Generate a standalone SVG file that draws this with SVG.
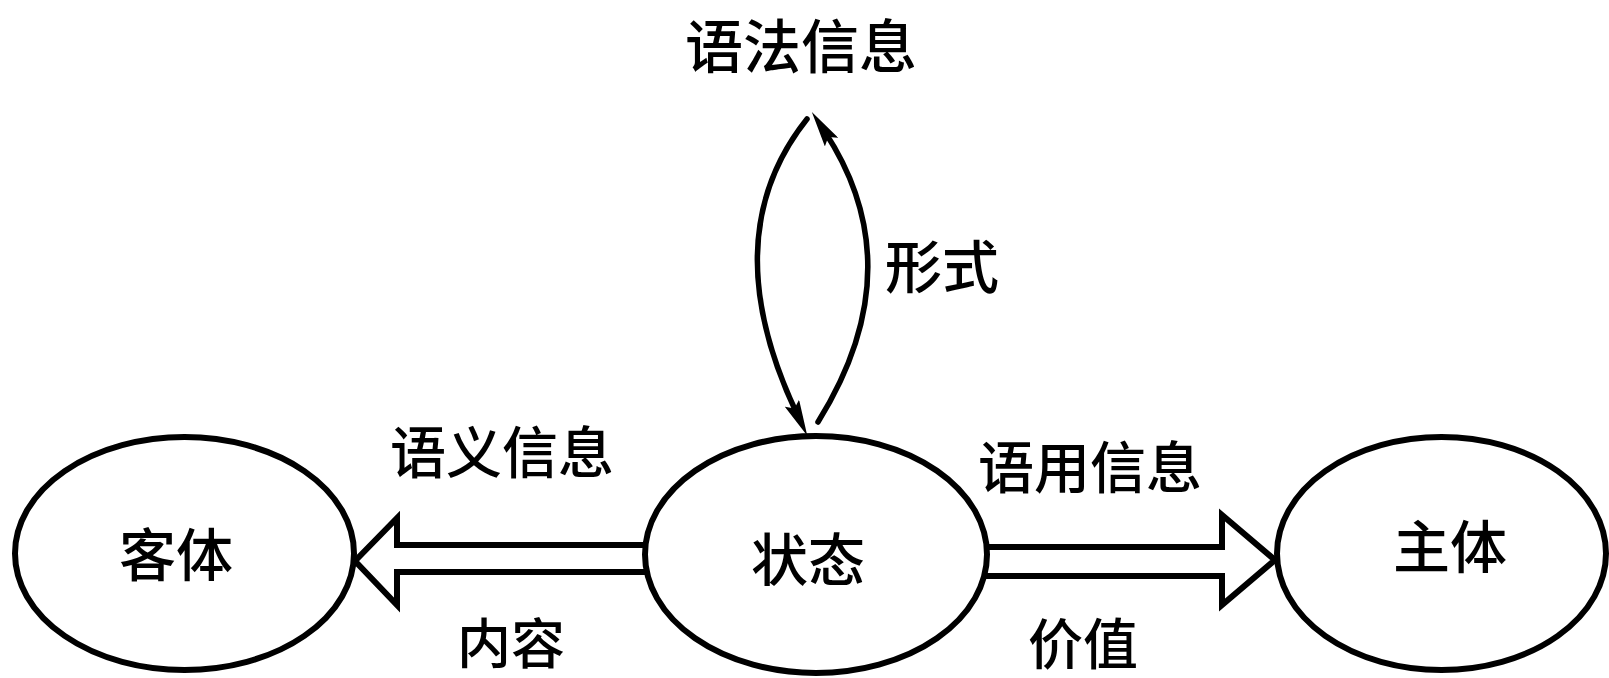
<svg xmlns="http://www.w3.org/2000/svg" width="1609" height="678" viewBox="0 0 1609 678">
  <style>
    .node { fill: #ffffff; stroke: #000000; stroke-width: 6; }
    .block { fill: #ffffff; stroke: #000000; stroke-width: 6; stroke-linejoin: miter; }
    .curve { fill: none; stroke: #000000; stroke-width: 5.5; stroke-linecap: round; }
    .lbl { font-family: "Noto Sans CJK SC", "Noto Sans CJK TC", sans-serif; font-weight: 500; fill: #000000; text-anchor: middle; }
  </style>
  <defs>
    <marker id="head" viewBox="0 0 36 16" refX="12" refY="8" markerWidth="36" markerHeight="16" markerUnits="userSpaceOnUse" orient="auto">
      <path d="M0,0 L36,8 L0,16 L6,8 z" fill="#000000"/>
    </marker>
  </defs>
  <rect width="1609" height="678" fill="#ffffff"/>

  <g id="connectors">
    <path class="block" d="M650,545 L397,545 L397,518 L355,561 L397,605 L397,572 L650,572"/>
    <path class="block" d="M982,547 L1222,547 L1222,515 L1275,560 L1222,605 L1222,576 L982,576"/>
    <path class="curve" d="M807,119 Q713,237 797,414" marker-end="url(#head)"/>
    <path class="curve" d="M818,422 Q914,268 825,132" marker-end="url(#head)"/>
  </g>

  <g id="node-keti">
    <ellipse class="node" cx="184.5" cy="553.5" rx="169.5" ry="116.5"/>
    <text class="lbl" x="176" y="576" font-size="57">客体</text>
  </g>
  <g id="node-zhuangtai">
    <ellipse class="node" cx="816" cy="554.5" rx="171" ry="118.5"/>
    <text class="lbl" x="808" y="581" font-size="57">状态</text>
  </g>
  <g id="node-zhuti">
    <ellipse class="node" cx="1441.5" cy="553.5" rx="164.5" ry="116.5"/>
    <text class="lbl" x="1450" y="568" font-size="57">主体</text>
  </g>
  <g id="node-yufa">
    <text class="lbl" x="801" y="68" font-size="58">语法信息</text>
  </g>

  <g id="labels">
    <text class="lbl" x="942" y="288" font-size="57">形式</text>
    <text class="lbl" x="502" y="473" font-size="56">语义信息</text>
    <text class="lbl" x="1090" y="488" font-size="56">语用信息</text>
    <text class="lbl" x="511" y="664" font-size="54">内容</text>
    <text class="lbl" x="1083" y="664" font-size="55">价值</text>
  </g>
</svg>
